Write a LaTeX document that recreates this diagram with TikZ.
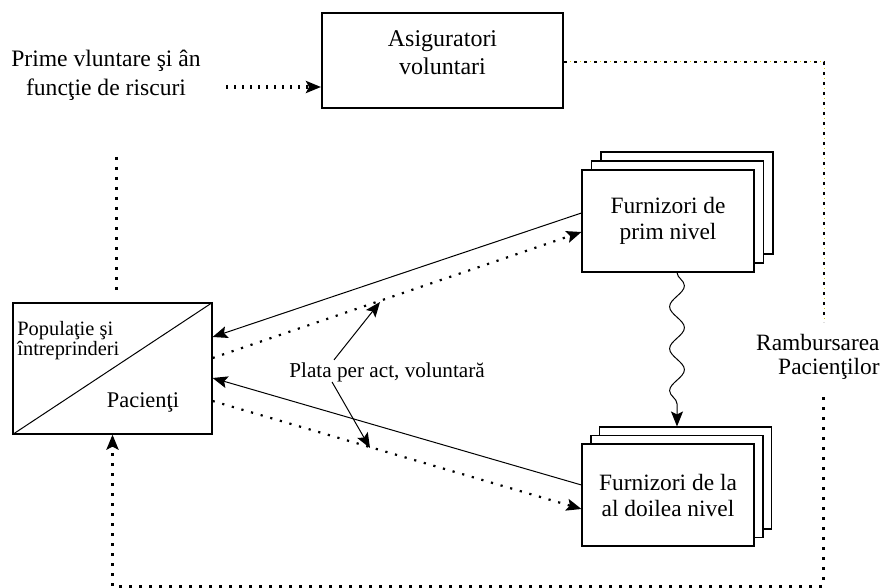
\documentclass[tikz,border=0pt]{standalone}
\usepackage{fontspec}
\setmainfont{Liberation Serif}
\usetikzlibrary{arrows.meta,decorations.pathmorphing}
\definecolor{dotyellow}{RGB}{228,208,0}
\begin{document}
\begin{tikzpicture}[x=0.5pt,y=-0.5pt,
  txt/.style={font=\fontsize{11.8}{14.5}\selectfont, align=center, inner sep=0pt},
  stackbox/.style={draw, fill=white, line width=0.55pt, minimum width=86pt, minimum height=51pt, inner sep=0pt, align=center, font=\fontsize{11.7}{13}\selectfont},
  tip/.style={-{Stealth[length=7.5pt,width=6pt,inset=1.5pt]}},
  finedot/.style={line width=1.1pt, dash pattern=on 1.1pt off 3.9pt},
  thickdot/.style={line width=1.5pt, dash pattern=on 1.5pt off 3.5pt},
  primedot/.style={line width=1.6pt, dash pattern=on 1.1pt off 2.9pt},
  thinline/.style={line width=0.5pt},
]
\useasboundingbox (0,0) rectangle (882,588);

% Asiguratori
\node[draw, line width=1pt, minimum width=120.5pt, minimum height=47.5pt, inner sep=0pt] (asig) at (442.5,60.5) {};
\node[txt, font=\fontsize{12}{14}\selectfont] (asigt) at (442.5,53) {Asiguratori\\voluntari};

% Prime text
\node[txt] (prime) at (106,75) {Prime vluntare şi ân\\funcţie de riscuri};
\coordinate (pa) at (226,87);
\draw[primedot, tip] (pa) -- ([yshift=-13.25pt]asig.west);

% Populatie box
\node[draw, line width=0.6pt, minimum width=99.5pt, minimum height=65.5pt, inner sep=0pt] (pop) at (112.5,368.5) {};
\draw[line width=0.5pt] (pop.south west) -- (pop.north east);
\node[anchor=north west, inner sep=0pt, align=left, font=\fontsize{10.2}{10}\selectfont] (popt) at (17,321) {Populaţie şi\\întreprinderi};
\node[anchor=base, inner sep=0pt, font=\fontsize{11.2}{13}\selectfont] (pact) at (143,407) {Pacienţi};

% Furnizori de prim nivel (stack)
\node[stackbox] (f1c) at (687,203) {};
\node[stackbox] (f1b) at (677.5,212) {};
\node[stackbox] (f1) at (668,221) {Furnizori de\\prim nivel};

% Furnizori de la al doilea nivel (stack)
\node[stackbox] (f2c) at (685.5,478) {};
\node[stackbox] (f2b) at (677,486.5) {};
\node[stackbox] (f2) at (668,495) {Furnizori de la\\al doilea nivel};

% Rambursarea
\node[anchor=north east, inner sep=0pt, align=right, font=\fontsize{11.7}{12}\selectfont] (ramb) at (880,334) {Rambursarea\\Pacienţilor};

% Plata label
\node[anchor=base west, inner sep=0pt, font=\fontsize{10.6}{12}\selectfont] (plata) at (289,377) {Plata per act, voluntară};

% connectors between population and providers
\draw[thinline, tip] ([yshift=4pt]f1.west) -- ([yshift=15.75pt]pop.east);
\draw[finedot, tip] ([yshift=5.25pt]pop.east) -- ([yshift=-5.5pt]f1.west);
\draw[thinline, tip] ([yshift=5pt]f2.west) -- ([yshift=-4.75pt]pop.east);
\draw[finedot, tip] ([yshift=-16.25pt]pop.east) -- ([yshift=-7pt]f2.west);

% label arrows
\coordinate (a1) at (380,302);
\coordinate (a2) at (370,448);
\draw[thinline, tip] ([xshift=22.5pt,yshift=1pt]plata.north west) -- (a1);
\draw[thinline, tip] ([xshift=21.5pt]plata.south west) -- (a2);

% wavy arrow
\draw[thinline, tip, decorate, decoration={snake, amplitude=3.7pt, segment length=21pt, post length=9pt}]
  ([xshift=4.5pt]f1.south) -- ([xshift=-4.25pt]f2c.north);

% yellow/black dotted line
\coordinate (yc) at (824,62);
\coordinate (ye) at (824,322);
\draw[dotyellow, line width=0.5pt, dash pattern=on 0.5pt off 4.5pt, dash phase=-3.2pt] ([yshift=-0.75pt]asig.east) -- (yc) -- (ye);
\draw[black, line width=0.75pt, dash pattern=on 1.4pt off 3.6pt] ([yshift=-0.75pt]asig.east) -- (yc) -- (ye);

% thick dotted return path
\coordinate (rb) at (823,397);
\coordinate (rc) at (823,586);
\draw[thickdot, tip] (rb) -- (rc) -| (pop.south);

% top vertical dotted
\coordinate (tv1) at (116,157);
\coordinate (tv2) at (116,295);
\draw[thickdot] (tv1) -- (tv2);
\end{tikzpicture}
\end{document}
